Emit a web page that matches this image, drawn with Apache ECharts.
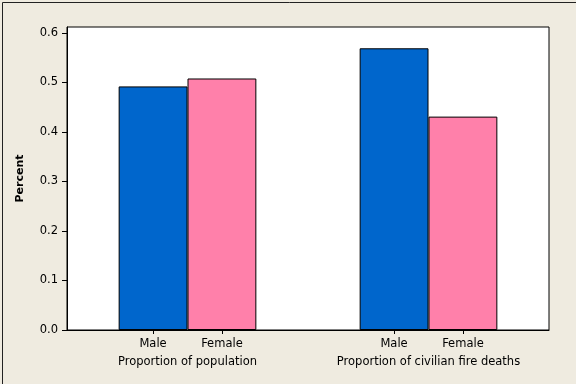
<!DOCTYPE html>
<html><head><meta charset="utf-8">
<script src="https://cdn.jsdelivr.net/npm/echarts@6/dist/echarts.min.js"></script>
<style>html,body{margin:0;padding:0;background:#efebe0}#c{width:576px;height:384px}</style>
</head><body><div id="c"></div>
<script>
const groups = ['Proportion of population', 'Proportion of civilian fire deaths'];
const categories = ['Male', 'Female'];
const maleValues = [0.492, 0.569];
const femaleValues = [0.508, 0.431];
const yTicks = [0, 0.1, 0.2, 0.3, 0.4, 0.5, 0.6];
const colors = ['#0066cc', '#ff80aa'];

// layout in bar-width units along the x axis
const groupStart = [1.25, 4.75];
const xMax = 7;
const gridLeft = 67, gridRight = 27;
const barW = (576 - gridLeft - gridRight) / xMax;

const series = categories.map((cat, i) => {
  const vals = i === 0 ? maleValues : femaleValues;
  return {
    type: 'bar',
    name: cat,
    barWidth: barW,
    barGap: '-100%',
    itemStyle: { color: colors[i], borderColor: '#000', borderWidth: 1 },
    data: vals.map((v, g) => [groupStart[g] + i, v])
  };
});

const catPositions = [], catLabels = {};
groupStart.forEach(s => categories.forEach((c, i) => { catPositions.push(s + i); catLabels[s + i] = c; }));
const groupPositions = groupStart.map(s => s + (categories.length - 1) / 2);
const groupLabels = {};
groupPositions.forEach((p, g) => groupLabels[p] = groups[g]);

const font = 'DejaVu Sans';
const fs = 11.5;
const chart = echarts.init(document.getElementById('c'));
chart.setOption({
  backgroundColor: '#efebe0',
  animation: false,
  textStyle: { fontFamily: font },
  grid: { left: gridLeft, right: gridRight, top: 27, bottom: 54, show: true, backgroundColor: '#fff', borderColor: '#000', borderWidth: 1 },
  xAxis: [{
    type: 'value', min: 0, max: xMax,
    axisLine: { show: true, lineStyle: { color: '#000' } },
    splitLine: { show: false },
    axisTick: { show: true, length: 4, lineStyle: { color: '#000' }, customValues: catPositions },
    axisLabel: { color: '#000', fontSize: fs, fontFamily: font, margin: 8, customValues: catPositions, formatter: v => catLabels[v] || '' }
  }, {
    type: 'value', min: 0, max: xMax, position: 'bottom',
    axisLine: { show: false }, splitLine: { show: false }, axisTick: { show: false },
    axisLabel: { color: '#000', fontSize: fs, fontFamily: font, margin: 26, customValues: groupPositions, formatter: v => groupLabels[v] || '' }
  }],
  yAxis: {
    type: 'value', min: 0, max: 0.612,
    name: 'Percent', nameLocation: 'middle', nameGap: 41,
    nameTextStyle: { fontWeight: 'bold', fontSize: 11, color: '#000', fontFamily: font },
    axisLine: { show: true, lineStyle: { color: '#000' } },
    splitLine: { show: false },
    axisTick: { show: true, length: 5, lineStyle: { color: '#000' }, customValues: yTicks },
    axisLabel: { color: '#000', fontSize: fs, fontFamily: font, margin: 9, customValues: yTicks, formatter: v => v.toFixed(1) }
  },
  series: series,
  graphic: [{
    type: 'rect', left: 0, top: 0, silent: true,
    shape: { x: 0.5, y: 0.5, width: 575, height: 383 },
    style: { fill: 'none', stroke: '#222', lineWidth: 1 }
  }]
});
</script></body></html>
